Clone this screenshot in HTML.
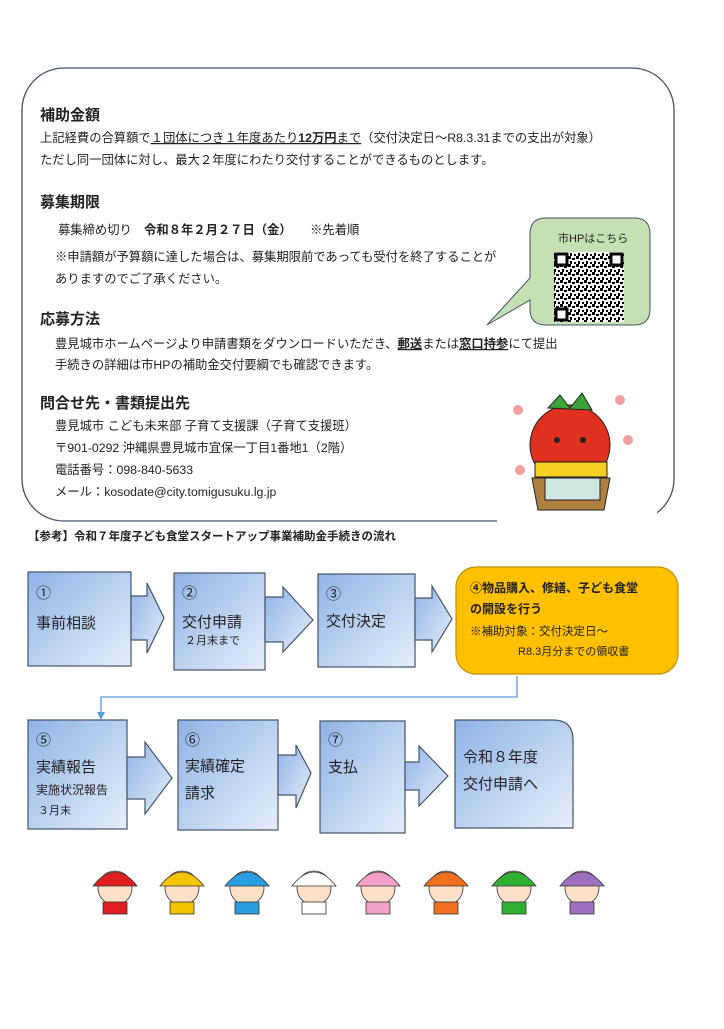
<!DOCTYPE html>
<html><head><meta charset="utf-8"><style>
body{margin:0;background:#fff}
svg text{font-family:"Liberation Sans","Noto Sans CJK JP",sans-serif;fill:#222}
.h{font-size:15px;font-weight:bold}
.b{font-size:12.3px}
.f{font-size:15px}
.s{font-size:11px}
</style></head><body>
<svg width="724" height="1024" viewBox="0 0 724 1024" xmlns="http://www.w3.org/2000/svg">
<defs>
<linearGradient id="g" x1="0" y1="0" x2="1" y2="1"><stop offset="0" stop-color="#8fb3e6"/><stop offset="1" stop-color="#e6eefa"/></linearGradient>
<pattern id="qr" width="8" height="8" patternUnits="userSpaceOnUse"><rect width="8" height="8" fill="#fff"/><rect x="0" y="0" width="3" height="3" fill="#000"/><rect x="4" y="2" width="3" height="2" fill="#000"/><rect x="2" y="5" width="2" height="3" fill="#000"/><rect x="6" y="6" width="2" height="2" fill="#000"/></pattern>
</defs>
<rect x="22" y="68" width="652" height="453" rx="42" fill="none" stroke="#44546a" stroke-width="1.3"/>
<text class="h" x="40" y="120">補助金額</text>
<text class="b" x="40" y="142">上記経費の合算額で<tspan text-decoration="underline">１団体につき１年度あたり<tspan font-weight="bold">12万円</tspan>まで</tspan>（交付決定日～R8.3.31までの支出が対象）</text>
<text class="b" x="40" y="164">ただし同一団体に対し、最大２年度にわたり交付することができるものとします。</text>
<text class="h" x="40" y="207">募集期限</text>
<text class="b" x="58" y="234">募集締め切り　<tspan font-weight="bold">令和８年２月２７日（金）</tspan>　　※先着順</text>
<text class="b" x="55" y="261">※申請額が予算額に達した場合は、募集期限前であっても受付を終了することが</text>
<text class="b" x="55" y="283">ありますのでご了承ください。</text>
<text class="h" x="40" y="324">応募方法</text>
<text class="b" x="55" y="348">豊見城市ホームページより申請書類をダウンロードいただき、<tspan font-weight="bold" text-decoration="underline">郵送</tspan>または<tspan font-weight="bold" text-decoration="underline">窓口持参</tspan>にて提出</text>
<text class="b" x="55" y="369">手続きの詳細は市HPの補助金交付要綱でも確認できます。</text>
<text class="h" x="40" y="408">問合せ先・書類提出先</text>
<text class="b" x="55" y="430">豊見城市 こども未来部 子育て支援課（子育て支援班）</text>
<text class="b" x="55" y="452">〒901-0292 沖縄県豊見城市宜保一丁目1番地1（2階）</text>
<text class="b" x="55" y="474">電話番号：098-840-5633</text>
<text class="b" x="55" y="496">メール：kosodate@city.tomigusuku.lg.jp</text>
<path d="M546 218 H634 Q650 218 650 234 V309 Q650 325 634 325 H546 Q530 325 530 309 V300 L487 325 L530 278 V234 Q530 218 546 218Z" fill="#c6e0b4" stroke="#44546a" stroke-width="1"/>
<text class="s" x="558" y="242">市HPはこちら</text>
<rect x="554" y="252" width="70" height="70" fill="url(#qr)"/>
<g fill="#fff" stroke="#000" stroke-width="3"><rect x="556" y="254" width="11" height="11"/><rect x="611" y="254" width="11" height="11"/><rect x="556" y="309" width="11" height="11"/></g>
<rect x="497" y="358" width="160" height="172" fill="#fff"/>
<circle cx="570" cy="445" r="40" fill="#e0301e" stroke="#222"/>
<path d="M548 408 L560 395 L570 408 L582 393 L592 410 Z" fill="#3aa63a" stroke="#222"/>
<circle cx="557" cy="440" r="3" fill="#222"/><circle cx="583" cy="440" r="3" fill="#222"/>
<rect x="535" y="462" width="72" height="15" fill="#f5d020" stroke="#222"/>
<path d="M532 478 H610 L604 510 H538Z" fill="#b08040" stroke="#222"/>
<rect x="545" y="478" width="55" height="22" fill="#cfe7e0" stroke="#222"/>
<g fill="#f4a0a0"><circle cx="518" cy="410" r="5"/><circle cx="620" cy="400" r="5"/><circle cx="628" cy="440" r="5"/><circle cx="520" cy="470" r="5"/></g>
<text x="28" y="540" style="font-size:11.5px;font-weight:bold">【参考】令和７年度子ども食堂スタートアップ事業補助金手続きの流れ</text>
<g stroke="#44546a" stroke-width="1.2" fill="url(#g)">
<rect x="28" y="572" width="103" height="94"/>
<path d="M131 596 H147 V583 L164 618 L147 653 V640 H131Z"/>
<rect x="174" y="573" width="91" height="97"/>
<path d="M265 597 H283 V587 L313 620 L283 652 V642 H265Z"/>
<rect x="318" y="574" width="97" height="93"/>
<path d="M415 598 H432 V586 L452 619 L432 652 V640 H415Z"/>
<rect x="28" y="720" width="99" height="109"/>
<path d="M127 757 H145 V742 L172 778 L145 814 V799 H127Z"/>
<rect x="178" y="720" width="100" height="110"/>
<path d="M278 755 H296 V745 L311 773 L296 808 V795 H278Z"/>
<rect x="320" y="721" width="85" height="112"/>
<path d="M405 762 H419 V746 L448 776 L419 806 V790 H405Z"/>
<path d="M455 720 H553 Q573 720 573 740 V828 H455Z"/>
</g>
<rect x="456" y="567" width="222" height="107" rx="20" fill="#ffc000" stroke="#bf9000" stroke-width="1.2"/>
<path d="M517 676 V697 H101 V714" fill="none" stroke="#5b9bd5" stroke-width="1.3"/>
<path d="M97 712 L101 720 L105 712Z" fill="#5b9bd5"/>
<text class="f" x="36" y="598">①</text><text class="f" x="36" y="628">事前相談</text>
<text class="f" x="182" y="598">②</text><text class="f" x="182" y="627">交付申請</text><text class="s" x="185" y="644">２月末まで</text>
<text class="f" x="326" y="599">③</text><text class="f" x="326" y="626">交付決定</text>
<text x="470" y="592" style="font-size:12px;font-weight:bold">④物品購入、修繕、子ども食堂</text>
<text x="470" y="613" style="font-size:12px;font-weight:bold">の開設を行う</text>
<text x="470" y="635" style="font-size:11.5px">※補助対象：交付決定日～</text>
<text x="518" y="655" style="font-size:11px">R8.3月分までの領収書</text>
<text class="f" x="36" y="745">⑤</text><text class="f" x="36" y="772">実績報告</text><text class="b" x="36" y="794" style="font-size:12px">実施状況報告</text><text class="s" x="38" y="814">３月末</text>
<text class="f" x="185" y="745">⑥</text><text class="f" x="185" y="771">実績確定</text><text class="f" x="185" y="798">請求</text>
<text class="f" x="328" y="745">⑦</text><text class="f" x="328" y="772">支払</text>
<text class="f" x="463" y="762">令和８年度</text><text class="f" x="463" y="789">交付申請へ</text>
<g stroke="#333" stroke-width="0.8">
<g transform="translate(115,888)"><circle r="17" fill="#fde0c8"/><path d="M-22 -2 Q0 -30 22 -2Z" fill="#e02020"/><rect x="-12" y="14" width="24" height="12" fill="#e02020"/></g>
<g transform="translate(182,888)"><circle r="17" fill="#fde0c8"/><path d="M-22 -2 Q0 -30 22 -2Z" fill="#f5c400"/><rect x="-12" y="14" width="24" height="12" fill="#f5c400"/></g>
<g transform="translate(247,888)"><circle r="17" fill="#fde0c8"/><path d="M-22 -2 Q0 -30 22 -2Z" fill="#2a9ee0"/><rect x="-12" y="14" width="24" height="12" fill="#2a9ee0"/></g>
<g transform="translate(314,888)"><circle r="17" fill="#fde0c8"/><path d="M-22 -2 Q0 -30 22 -2Z" fill="#fff"/><rect x="-12" y="14" width="24" height="12" fill="#fff"/></g>
<g transform="translate(378,888)"><circle r="17" fill="#fde0c8"/><path d="M-22 -2 Q0 -30 22 -2Z" fill="#f4a0c8"/><rect x="-12" y="14" width="24" height="12" fill="#f4a0c8"/></g>
<g transform="translate(446,888)"><circle r="17" fill="#fde0c8"/><path d="M-22 -2 Q0 -30 22 -2Z" fill="#f07020"/><rect x="-12" y="14" width="24" height="12" fill="#f07020"/></g>
<g transform="translate(514,888)"><circle r="17" fill="#fde0c8"/><path d="M-22 -2 Q0 -30 22 -2Z" fill="#30b030"/><rect x="-12" y="14" width="24" height="12" fill="#30b030"/></g>
<g transform="translate(582,888)"><circle r="17" fill="#fde0c8"/><path d="M-22 -2 Q0 -30 22 -2Z" fill="#a070c0"/><rect x="-12" y="14" width="24" height="12" fill="#a070c0"/></g>
</g>
</svg>
</body></html>
